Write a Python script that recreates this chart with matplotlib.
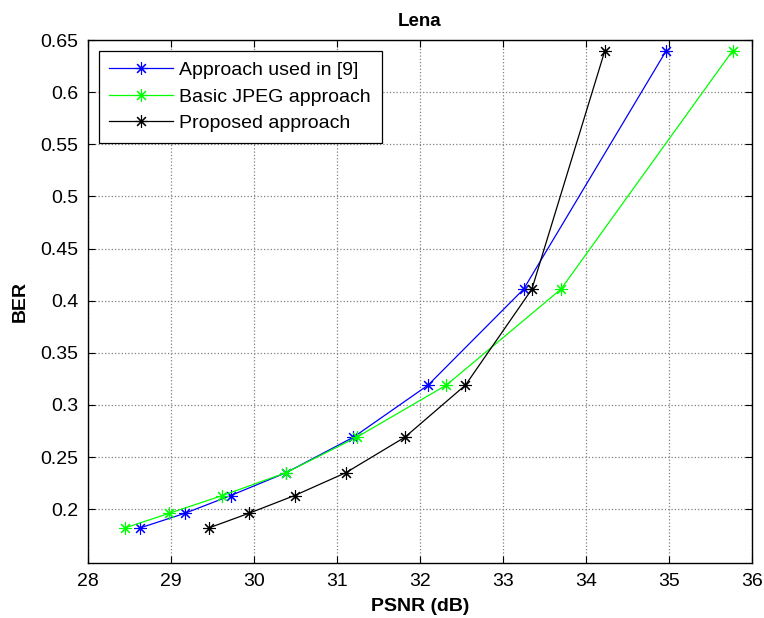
import matplotlib
matplotlib.use("Agg")
import matplotlib.pyplot as plt

plt.rcParams['font.family'] = ['Liberation Sans', 'DejaVu Sans']

ber = [0.182, 0.196, 0.213, 0.235, 0.269, 0.319, 0.411, 0.640]
psnr_ref9 = [28.63, 29.17, 29.72, 30.39, 31.20, 32.10, 33.25, 34.97]
psnr_jpeg = [28.45, 28.98, 29.62, 30.39, 31.24, 32.32, 33.70, 35.77]
psnr_prop = [29.46, 29.94, 30.49, 31.11, 31.82, 32.55, 33.35, 34.23]

labels = ["Approach used in [9]", "Basic JPEG approach", "Proposed approach"]
colors = ["#0000ff", "#00ff00", "#000000"]
xticks = [28, 29, 30, 31, 32, 33, 34, 35, 36]
yticks = [0.2, 0.25, 0.3, 0.35, 0.4, 0.45, 0.5, 0.55, 0.6, 0.65]
ytick_labels = ["0.2", "0.25", "0.3", "0.35", "0.4", "0.45", "0.5", "0.55", "0.6", "0.65"]

fig = plt.figure(figsize=(7.64, 6.18), dpi=100)
ax = fig.add_axes([0.115, 0.0885, 0.869, 0.8465])

for xs, lab, c in zip([psnr_ref9, psnr_jpeg, psnr_prop], labels, colors):
    ax.plot(xs, ber, color=c, marker=(8, 2, 0), markersize=9, linewidth=0.9,
            markeredgewidth=0.8, label=lab)

ax.set_xlim(28, 36)
ax.set_ylim(0.148, 0.65)
ax.set_xticks(xticks)
ax.set_xticklabels([str(v) for v in xticks])
ax.set_yticks(yticks)
ax.set_yticklabels(ytick_labels)
ax.tick_params(direction='in', top=True, right=True, labelsize=14, length=5, width=0.8, pad=7)
ax.grid(True, linestyle=':', color='#808080', linewidth=0.9)
for s in ax.spines.values():
    s.set_linewidth(1.0)

ax.set_title("Lena", fontsize=13.5, fontweight='bold', pad=10)
ax.set_xlabel("PSNR (dB)", fontsize=14, fontweight='bold', labelpad=6)
ax.set_ylabel("BER", fontsize=14, fontweight='bold', labelpad=8)

leg = ax.legend(loc='upper left', fontsize=14, fancybox=False, framealpha=1,
                edgecolor='black', borderaxespad=0.55, handlelength=3.3,
                handletextpad=0.3, labelspacing=0.45, borderpad=0.55)
leg.get_frame().set_linewidth(0.9)

fig.savefig("out.png", dpi=100)
